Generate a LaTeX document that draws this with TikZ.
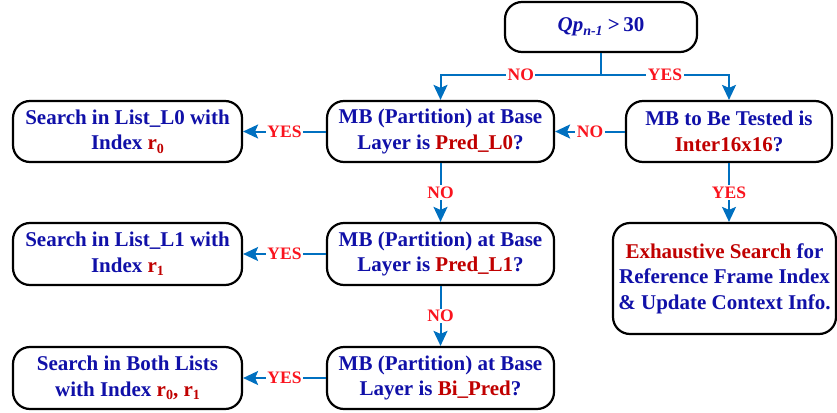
\documentclass[tikz,border=0pt]{standalone}
\usepackage{fontspec}
\setmainfont{Liberation Serif}
\usetikzlibrary{arrows.meta}
\definecolor{txtblue}{RGB}{16,16,168}
\definecolor{txtred}{RGB}{192,0,0}
\definecolor{lblred}{RGB}{250,20,30}
\definecolor{arrblue}{RGB}{0,112,192}
% highlighted (red) words inside the boxes
\newcommand{\hl}[1]{\textcolor{txtred}{#1}}
% lowered small index
\newcommand{\lowidx}[1]{\raisebox{-0.4ex}{\fontsize{14}{14}\selectfont #1}}
\tikzset{
  box/.style={draw=black, line width=2.2pt, rounded corners=17pt, inner sep=0pt,
    align=center, text=txtblue, font=\fontsize{21}{25.5}\selectfont\bfseries},
  flowline/.style={draw=arrblue, line width=2pt},
  flow/.style={flowline, -{Stealth[length=15pt,width=14pt,inset=3pt]}},
  lbl/.style={fill=white, inner sep=1.5pt, text=lblred,
    font=\fontsize{17.5}{18}\selectfont\bfseries},
}
\begin{document}
\begin{tikzpicture}[x=1pt,y=-1pt]
\useasboundingbox (0,0) rectangle (837,412);

% decision boxes
\node[box, minimum width=192pt, minimum height=50pt] (qp) at (601,27)
  {\itshape Qp\lowidx{n-1}\upshape\ {>}\,30};
\node[box, minimum width=206pt, minimum height=61pt] (inter) at (729,131.5)
  {MB to Be Tested is\\\hl{Inter16x16}?};
\node[box, minimum width=227pt, minimum height=61pt] (pl0) at (440.5,131.5)
  {MB (Partition) at Base\\Layer is \hl{Pred\_L0}?};
\node[box, minimum width=227pt, minimum height=62pt] (pl1) at (440.5,254)
  {MB (Partition) at Base\\Layer is \hl{Pred\_L1}?};
\node[box, minimum width=227pt, minimum height=62pt] (bi) at (440.5,378)
  {MB (Partition) at Base\\Layer is \hl{Bi\_Pred}?};

% action boxes
\node[box, minimum width=229pt, minimum height=61pt] (sl0) at (127.5,131.5)
  {Search in List\_L0 with\\Index \hl{r\lowidx{0}}};
\node[box, minimum width=229pt, minimum height=62pt] (sl1) at (127.5,254)
  {Search in List\_L1 with\\Index \hl{r\lowidx{1}}};
\node[box, minimum width=229pt, minimum height=62pt] (sboth) at (127.5,378)
  {Search in Both Lists\\with Index \hl{r\lowidx{0}, r\lowidx{1}}};
\node[box, minimum width=223pt, minimum height=111pt] (exh) at (724.5,278.5)
  {\hl{Exhaustive Search} for\\Reference Frame Index\\\& Update Context Info.};

% connectors
\draw[flowline] (qp.south) -- ++(0,22) coordinate (split);
\draw[flow] (split) -| (pl0.north) node[lbl, pos=0.25] {NO};
\draw[flow] (split) -| (inter.north) node[lbl, pos=0.25] {YES};
\draw[flow] (inter.west) -- (pl0.east) node[lbl, midway] {NO};
\draw[flow] (inter.south) -- (inter.south |- exh.north) node[lbl, midway] {YES};
\draw[flow] (pl0.west) -- (sl0.east) node[lbl, midway] {YES};
\draw[flow] (pl0.south) -- (pl1.north) node[lbl, midway] {NO};
\draw[flow] (pl1.west) -- (sl1.east) node[lbl, midway] {YES};
\draw[flow] (pl1.south) -- (bi.north) node[lbl, midway] {NO};
\draw[flow] (bi.west) -- (sboth.east) node[lbl, midway] {YES};
\end{tikzpicture}
\end{document}
